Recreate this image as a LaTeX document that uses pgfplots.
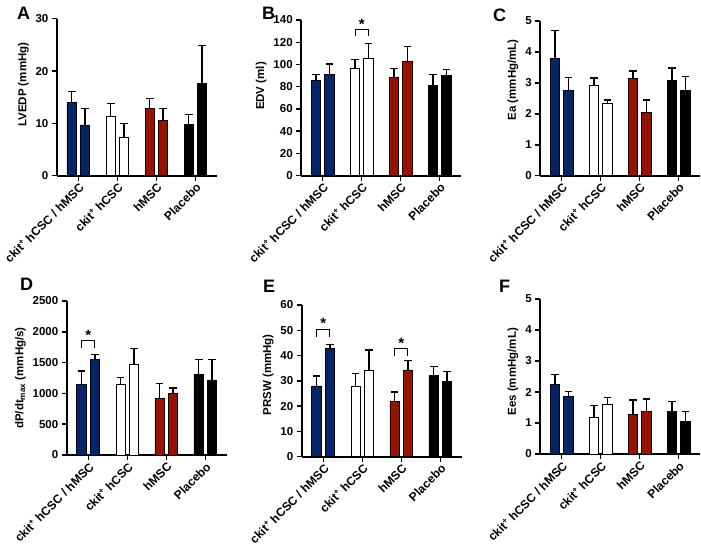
\documentclass[border=0pt]{standalone}
\usepackage{pgfplots}
\pgfplotsset{compat=1.18}
\usepackage{fontspec}
\setmainfont{Liberation Sans}
\definecolor{nblue}{RGB}{4,38,104}
\definecolor{dred}{RGB}{152,18,2}
\newcommand{\tickfont}{\fontsize{11.5}{12}\selectfont\bfseries}
\newcommand{\xtickfont}{\fontsize{12}{13}\selectfont\bfseries}
\newcommand{\labfont}{\fontsize{11.5}{13}\selectfont\bfseries}
\newcommand{\starfont}{\fontsize{15}{16}\selectfont\bfseries}
\newcommand{\letfont}{\fontsize{18}{20}\selectfont\bfseries}
\pgfplotsset{
  panel/.style={
    scale only axis, width=160pt,
    xmin=-0.55, xmax=3.55, ymin=0,
    axis x line*=bottom, axis y line*=left,
    axis line style={line width=1.8pt, black},
    xtick={0,1,2,3},
    xticklabels={ckit\textsuperscript{+} hCSC / hMSC, ckit\textsuperscript{+} hCSC, hMSC, Placebo},
    x tick label style={rotate=45, anchor=north east, inner sep=1pt, font=\xtickfont},
    y tick label style={font=\tickfont},
    tick style={line width=1.5pt, black},
    major tick length=5pt,
    tick align=outside,
    ylabel style={font=\labfont},
    clip=false,
    ybar, bar width=9.5pt, bar shift=0pt,
    /pgf/number format/assume math mode=true,
    /pgf/number format/1000 sep={},
    scaled y ticks=false,
  },
  ylabpos/.style={ylabel style={at={(ticklabel cs:#1)}, anchor=south}},
  bars/.style={
    fill=#1, draw=black, line width=0.8pt,
    error bars/y dir=plus, error bars/y explicit,
    error bars/error mark options={rotate=90, mark size=3.8pt, line width=1.3pt, black},
    error bars/error bar style={line width=1.3pt, black},
  },
}
\begin{document}
\begin{tikzpicture}
\path[use as bounding box] (0,0) rectangle (701pt,-550pt);
% ---------- A ----------
\begin{axis}[panel, at={(56.9pt,-175.7pt)}, anchor=south west, height=157pt,
  ymax=30, ytick={0,10,20,30}, ylabel={LVEDP (mmHg)}, ylabpos=0.58]
\addplot[bars=nblue] coordinates {(-0.17,14.0) +- (0,2.1) (0.17,9.7) +- (0,3.1)};
\addplot[bars=white] coordinates {(0.83,11.4) +- (0,2.4) (1.17,7.4) +- (0,2.6)};
\addplot[bars=dred] coordinates {(1.83,12.8) +- (0,2.0) (2.17,10.5) +- (0,2.3)};
\addplot[bars=black] coordinates {(2.83,9.8) +- (0,1.9) (3.17,17.7) +- (0,7.2)};
\end{axis}
% ---------- B ----------
\begin{axis}[panel, at={(301.2pt,-175.7pt)}, anchor=south west, height=155.7pt,
  ymax=140, ytick={0,20,...,140}, ylabel={EDV (ml)}, ylabpos=0.576]
\addplot[bars=nblue] coordinates {(-0.17,86.0) +- (0,5.1) (0.17,91.1) +- (0,9.4)};
\addplot[bars=white] coordinates {(0.83,96.6) +- (0,8.1) (1.17,105.9) +- (0,12.7)};
\addplot[bars=dred] coordinates {(1.83,88.4) +- (0,7.9) (2.17,103.2) +- (0,13.0)};
\addplot[bars=black] coordinates {(2.83,81.5) +- (0,9.3) (3.17,90.5) +- (0,4.9)};
\draw[line width=1pt] (axis cs:0.83,125.8) -- (axis cs:0.83,131.3) -- (axis cs:1.17,131.3) -- (axis cs:1.17,125.8);
\node[anchor=south, inner sep=0pt, font=\starfont] at (axis cs:1,131.3) {*};
\end{axis}
% ---------- C ----------
\begin{axis}[panel, at={(540.2pt,-175.7pt)}, anchor=south west, height=154.7pt,
  ymax=5, ytick={0,1,...,5}, ylabel={Ea (mmHg/mL)}, ylabpos=0.62]
\addplot[bars=nblue] coordinates {(-0.17,3.78) +- (0,0.92) (0.17,2.75) +- (0,0.42)};
\addplot[bars=white] coordinates {(0.83,2.92) +- (0,0.24) (1.17,2.34) +- (0,0.11)};
\addplot[bars=dred] coordinates {(1.83,3.13) +- (0,0.25) (2.17,2.05) +- (0,0.40)};
\addplot[bars=black] coordinates {(2.83,3.09) +- (0,0.39) (3.17,2.75) +- (0,0.45)};
\end{axis}
% ---------- D ----------
\begin{axis}[panel, at={(66.8pt,-455pt)}, anchor=south west, height=154pt,
  ymax=2500, ytick={0,500,...,2500}, ylabel={dP/dt\textsubscript{max} (mmHg/s)}, ylabpos=0.5]
\addplot[bars=nblue] coordinates {(-0.17,1142) +- (0,222) (0.17,1553) +- (0,81)};
\addplot[bars=white] coordinates {(0.83,1142) +- (0,113) (1.17,1466) +- (0,266)};
\addplot[bars=dred] coordinates {(1.83,920) +- (0,238) (2.17,1001) +- (0,87)};
\addplot[bars=black] coordinates {(2.83,1315) +- (0,238) (3.17,1218) +- (0,335)};
\draw[line width=1pt] (axis cs:-0.17,1732) -- (axis cs:-0.17,1856) -- (axis cs:0.17,1856) -- (axis cs:0.17,1732);
\node[anchor=south, inner sep=0pt, font=\starfont] at (axis cs:0,1856) {*};
\end{axis}
% ---------- E ----------
\begin{axis}[panel, at={(301.8pt,-456.7pt)}, anchor=south west, height=151.7pt,
  ymax=60, ytick={0,10,...,60}, ylabel={PRSW (mmHg)}, ylabpos=0.54]
\addplot[bars=nblue] coordinates {(-0.17,28.0) +- (0,3.9) (0.17,42.7) +- (0,1.8)};
\addplot[bars=white] coordinates {(0.83,28.0) +- (0,5.0) (1.17,34.3) +- (0,7.9)};
\addplot[bars=dred] coordinates {(1.83,22.0) +- (0,3.6) (2.17,34.3) +- (0,3.8)};
\addplot[bars=black] coordinates {(2.83,32.1) +- (0,3.5) (3.17,29.6) +- (0,4.0)};
\draw[line width=1pt] (axis cs:-0.17,47.5) -- (axis cs:-0.17,50.5) -- (axis cs:0.17,50.5) -- (axis cs:0.17,47.5);
\node[anchor=south, inner sep=0pt, font=\starfont] at (axis cs:0,50.5) {*};
\draw[line width=1pt] (axis cs:1.83,40.0) -- (axis cs:1.83,42.7) -- (axis cs:2.17,42.7) -- (axis cs:2.17,40.0);
\node[anchor=south, inner sep=0pt, font=\starfont] at (axis cs:2,42.7) {*};
\end{axis}
% ---------- F ----------
\begin{axis}[panel, at={(540.2pt,-454pt)}, anchor=south west, height=155pt,
  ymax=5, ytick={0,1,...,5}, ylabel={Ees (mmHg/mL)}, ylabpos=0.53]
\addplot[bars=nblue] coordinates {(-0.17,2.25) +- (0,0.32) (0.17,1.86) +- (0,0.15)};
\addplot[bars=white] coordinates {(0.83,1.18) +- (0,0.38) (1.17,1.60) +- (0,0.23)};
\addplot[bars=dred] coordinates {(1.83,1.27) +- (0,0.47) (2.17,1.37) +- (0,0.40)};
\addplot[bars=black] coordinates {(2.83,1.37) +- (0,0.33) (3.17,1.04) +- (0,0.34)};
\end{axis}
% panel letters
\node[anchor=base west, inner sep=0pt, font=\letfont] at (17pt,-19pt) {A};
\node[anchor=base west, inner sep=0pt, font=\letfont] at (262pt,-19pt) {B};
\node[anchor=base west, inner sep=0pt, font=\letfont] at (493pt,-21pt) {C};
\node[anchor=base west, inner sep=0pt, font=\letfont] at (20pt,-290pt) {D};
\node[anchor=base west, inner sep=0pt, font=\letfont] at (263pt,-292pt) {E};
\node[anchor=base west, inner sep=0pt, font=\letfont] at (499pt,-292pt) {F};
\end{tikzpicture}
\end{document}
